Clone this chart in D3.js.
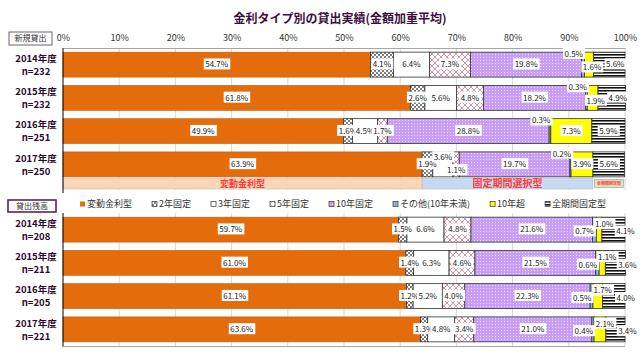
<!DOCTYPE html>
<html lang="ja">
<head>
<meta charset="UTF-8">
<title>金利タイプ別の貸出実績</title>
<script src="https://cdn.jsdelivr.net/npm/d3@7"></script>
<style>
	body{margin:0;background:#fff;}
	text{font-family:"Noto Sans CJK JP","Noto Sans",sans-serif;}
</style>
</head>
<body>
<svg id="svg"></svg>
<script>
// data
var years = ["2014年度", "2015年度", "2016年度", "2017年度"];
var nNew = ["n=232", "n=232", "n=251", "n=250"];
var nBal = ["n=208", "n=211", "n=205", "n=221"];
var types = ["変動金利型", "2年固定", "3年固定", "5年固定", "10年固定", "その他(10年未満)", "10年超", "全期間固定型"];
// 新規貸出
var newLoans = [
	[54.7, 4.1, 6.4, 7.3, 19.8, 0.5, 1.6, 5.6],
	[61.8, 2.6, 5.6, 4.8, 18.2, 0.3, 1.9, 4.9],
	[49.9, 1.6, 4.5, 1.7, 28.8, 0.3, 7.3, 5.9],
	[63.9, 1.9, 3.6, 1.1, 19.7, 0.2, 3.9, 5.6]
];
// 貸出残高
var balances = [
	[59.7, 1.5, 6.6, 4.8, 21.6, 0.7, 1.0, 4.1],
	[61.0, 1.4, 6.3, 4.6, 21.5, 0.6, 1.1, 3.6],
	[61.1, 1.2, 5.2, 4.0, 22.3, 0.5, 1.7, 4.0],
	[63.6, 1.3, 4.8, 3.4, 21.0, 0.4, 2.1, 3.4]
];
var ticks = [0, 10, 20, 30, 40, 50, 60, 70, 80, 90, 100];
var groupNames = ["変動金利型", "固定期間選択型", "全期間固定型"];

var w = 640, h = 360;
var svg = d3.select("#svg").attr("width", w).attr("height", h);
var x = d3.scaleLinear().domain([0, 100]).range([63, 625]);

// patterns
var defs = svg.append("defs");
var p = defs.append("pattern").attr("id", "p2").attr("width", 4).attr("height", 4).attr("patternUnits", "userSpaceOnUse");
p.append("rect").attr("width", 4).attr("height", 4).attr("fill", "#fff");
p.append("rect").attr("width", 2).attr("height", 2).attr("fill", "#7f7f7f");
p.append("rect").attr("x", 2).attr("y", 2).attr("width", 2).attr("height", 2).attr("fill", "#7f7f7f");

p = defs.append("pattern").attr("id", "p5").attr("width", 6).attr("height", 6).attr("patternUnits", "userSpaceOnUse");
p.append("rect").attr("width", 6).attr("height", 6).attr("fill", "#fff");
p.append("path").attr("d", "M0,0L3,3L6,0M0,6L3,3L6,6").attr("stroke", "#d08aa0").attr("stroke-width", 0.9).attr("fill", "none");

p = defs.append("pattern").attr("id", "p10").attr("width", 3).attr("height", 3).attr("patternUnits", "userSpaceOnUse");
p.append("rect").attr("width", 3).attr("height", 3).attr("fill", "#c79df5");
p.append("rect").attr("width", 1).attr("height", 1).attr("fill", "#e9dcff");

p = defs.append("pattern").attr("id", "pz").attr("width", 4).attr("height", 3).attr("patternUnits", "userSpaceOnUse");
p.append("rect").attr("width", 4).attr("height", 3).attr("fill", "#fff");
p.append("rect").attr("width", 4).attr("height", 1.6).attr("fill", "#111");

var fills = ["#e46c0a", "url(#p2)", "#fff", "url(#p5)", "url(#p10)", "#8db3e2", "#ffff00", "url(#pz)"];

// title
svg.append("text").attr("x", 340).attr("y", 23).attr("text-anchor", "middle")
	.attr("font-size", 12).attr("font-weight", "bold").attr("fill", "#3d0f40")
	.text("金利タイプ別の貸出実績(金額加重平均)");

// grid
var grid = svg.append("g");
[[48, 190], [213, 346]].forEach(function(r) {
	grid.selectAll(null).data(ticks.slice(1)).enter().append("line")
		.attr("x1", function(d) { return x(d); }).attr("x2", function(d) { return x(d); })
		.attr("y1", r[0]).attr("y2", r[1])
		.attr("stroke", "#d9d9d9").attr("stroke-width", 1);
});

// top axis
var ax = svg.append("g").attr("transform", "translate(0,48)")
	.call(d3.axisTop(x).tickValues(ticks).tickFormat(function(d) { return d + "%"; }).tickSize(0).tickPadding(7));
ax.select(".domain").attr("stroke", "#a6a6a6");
ax.selectAll("text").attr("font-size", 9).attr("fill", "#333");

function boxLabel(text, bx, by, bw, bh, stroke, sw) {
	svg.append("rect").attr("x", bx).attr("y", by).attr("width", bw).attr("height", bh)
		.attr("fill", "#fff").attr("stroke", stroke).attr("stroke-width", sw);
	svg.append("text").attr("x", bx + bw / 2).attr("y", by + bh / 2).attr("dy", "0.35em")
		.attr("text-anchor", "middle").attr("font-size", 8).attr("fill", "#333").text(text);
}
boxLabel("新規貸出", 9, 32, 43, 13, "#666", 1);
boxLabel("貸出残高", 8, 200, 48, 12, "#4b1a4b", 1.5);

function labelPos(kind, data, i, k, s, top, bh) {
	var v = data[i][k], cx = (x(s[0]) + x(s[1])) / 2, cy = top + bh / 2;
	if (kind == "new") {
		if (k == 5) return [x(s[0]) - 8, top + 2];
		if (k == 6) return v < 2.5 ? [cx + 3, cy + 3] : [cx, cy];
		if (k == 7) return [cx + (data[i][6] < 2.5 ? 6 : 0), cy];
		if (k > 0 && v < 4 && data[i][k + 1] < 2) return [cx, cy - 7];
		if (k > 1 && v < 2 && data[i][k - 1] < 4) return [cx, cy + 6];
		return [cx, cy];
	}
	if (k == 5) return [x(s[0]) - 8, cy + 2];
	if (k == 6) return [cx + 5, top + 7];
	if (k == 7) return [cx + 12, cy + 2];
	return [cx, cy];
}

function drawChart(data, ns, y0, y1, kind) {
	var rows = data.map(function(v, i) { return {year: years[i], vals: v}; });
	var y = d3.scaleBand().domain(years).range([y0, y1]).paddingInner(0.25).paddingOuter(0.125);
	var series = d3.stack().keys(d3.range(types.length))
		.value(function(d, k) { return d.vals[k]; })(rows);
	var g = svg.append("g");
	series.forEach(function(sr, k) {
		g.selectAll(null).data(sr).enter().append("rect")
			.attr("x", function(d) { return x(d[0]); })
			.attr("width", function(d) { return x(d[1]) - x(d[0]); })
			.attr("y", function(d) { return y(d.data.year); })
			.attr("height", y.bandwidth())
			.attr("fill", fills[k])
			.attr("stroke", k == 0 ? "#c65a08" : "#333")
			.attr("stroke-width", k == 0 ? 0.6 : 0.8);
	});
	// value labels
	var lg = svg.append("g");
	series.forEach(function(sr, k) {
		sr.forEach(function(s, i) {
			var pos = labelPos(kind, data, i, k, s, y(years[i]), y.bandwidth());
			var lab = lg.append("g");
			var r = lab.append("rect").attr("fill", "#fff");
			var t = lab.append("text").attr("x", pos[0]).attr("y", pos[1]).attr("dy", "0.35em")
				.attr("text-anchor", "middle").attr("font-size", 8).attr("fill", "#222")
				.text(data[i][k].toFixed(1) + "%");
			var b = t.node().getBBox();
			r.attr("x", b.x - 1.5).attr("y", b.y).attr("width", b.width + 3).attr("height", b.height);
		});
	});
	// row labels
	years.forEach(function(yr, i) {
		var c = y(yr) + y.bandwidth() / 2;
		svg.append("text").attr("x", 36).attr("y", c - 6).attr("dy", "0.35em").attr("text-anchor", "middle")
			.attr("font-size", 9.5).attr("font-weight", "bold").attr("fill", "#2b0b2b").text(yr);
		svg.append("text").attr("x", 36).attr("y", c + 7).attr("dy", "0.35em").attr("text-anchor", "middle")
			.attr("font-size", 9.5).attr("font-weight", "bold").attr("fill", "#2b0b2b").text(ns[i]);
	});
	return y;
}

drawChart(newLoans, nNew, 48, 181, "new");
drawChart(balances, nBal, 213, 346, "bal");

// group band under 新規貸出, from the latest year
var last = newLoans[newLoans.length - 1];
var gv = [last[0], d3.sum(last.slice(1, 7)), last[7]];
var gs = [0, gv[0], gv[0] + gv[1], 100];
var gcol = ["#fcd5b4", "#c5d9f1", "#d7e4bd"];
var gsize = [9, 10, 4];
groupNames.forEach(function(nm, i) {
	var inset = i == 2 ? 1.5 : 0;
	svg.append("rect").attr("x", x(gs[i]) + inset).attr("y", 178 + inset)
		.attr("width", x(gs[i + 1]) - x(gs[i]) - inset * 2).attr("height", 11 - inset * 2)
		.attr("fill", gcol[i]).attr("stroke", i == 2 ? "#999" : "#bbb").attr("stroke-width", 0.6);
	svg.append("text").attr("x", (x(gs[i]) + x(gs[i + 1])) / 2).attr("y", 183.5).attr("dy", "0.35em")
		.attr("text-anchor", "middle").attr("font-size", gsize[i]).attr("font-weight", "bold")
		.attr("fill", "#ff3b3b").text(nm);
});

// axis lines
svg.append("line").attr("x1", 63).attr("x2", 63).attr("y1", 48).attr("y2", 193).attr("stroke", "#000");
svg.append("line").attr("x1", 63).attr("x2", 63).attr("y1", 213).attr("y2", 347).attr("stroke", "#000");
svg.append("line").attr("x1", 63).attr("x2", 625).attr("y1", 346.5).attr("y2", 346.5).attr("stroke", "#a6a6a6");

// legend
var lx = 80;
types.forEach(function(tp, k) {
	var it = svg.append("g").attr("transform", "translate(" + lx + ",204)");
	it.append("rect").attr("x", 0).attr("y", -2.5).attr("width", 5).attr("height", 5)
		.attr("fill", fills[k]).attr("stroke", k == 0 ? "none" : "#333").attr("stroke-width", 0.7);
	var t = it.append("text").attr("x", 7).attr("dy", "0.35em").attr("font-size", 9)
		.attr("fill", "#333").text(tp);
	lx += 7 + t.node().getComputedTextLength() + 20;
});
</script>
</body>
</html>
